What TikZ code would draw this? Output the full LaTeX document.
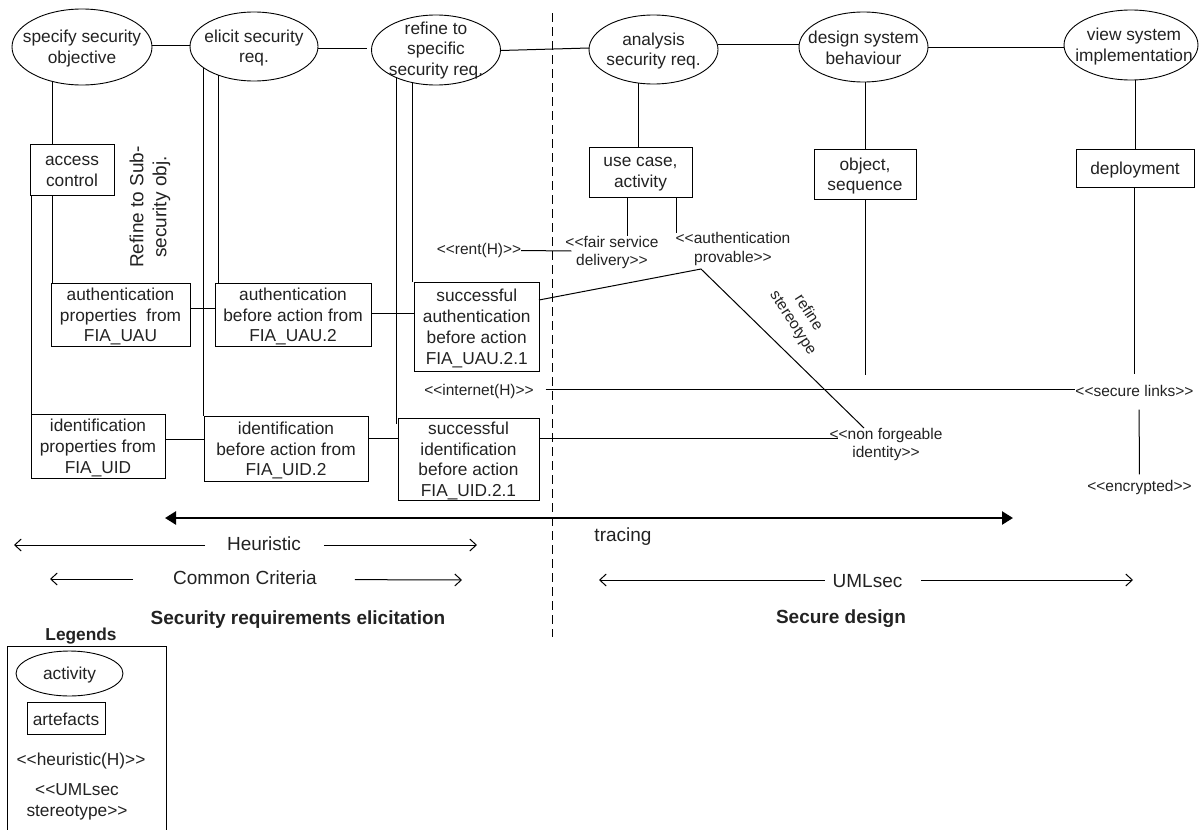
\documentclass[tikz,border=0pt]{standalone}
\usepackage{fontspec}
\setmainfont{Liberation Sans}
\usetikzlibrary{shapes.geometric,arrows.meta}
\definecolor{ink}{HTML}{222222}
\newcommand{\fmain}{\fontsize{17.3}{20.8}\selectfont}
\newcommand{\fsmall}{\fontsize{15.5}{18.5}\selectfont}
\newcommand{\fbig}{\fontsize{19}{22}\selectfont}
\newcommand{\LL}{{<}{<}}
\newcommand{\RR}{{>}{>}}
\tikzset{
  link/.style={draw=black,line width=1pt},
  acttext/.style={font=\fmain,text=ink,align=center,inner sep=0pt,yshift=-1.5pt},
  arttext/.style={font=\fmain,text=ink,align=center,inner sep=0pt,yshift=-2pt},
  act/.style={draw=black,line width=.9pt,ellipse,inner sep=0pt,outer sep=0pt},
  art/.style={draw=black,line width=1pt,rectangle,inner sep=0pt,outer sep=0pt},
  stereo/.style={font=\fsmall,text=ink,align=center,inner sep=0pt,outer sep=0pt},
  bigtext/.style={font=\fbig,text=ink,align=center,inner sep=0pt,outer sep=0pt},
  headtext/.style={font=\fbig\bfseries,text=ink,align=center,inner sep=0pt,outer sep=0pt},
  halfl/.style={draw=black,line width=1pt,-{Straight Barb[length=6.5pt,width=12pt]}},
}
\begin{document}
\begin{tikzpicture}[x=1pt,y=-1pt]
\useasboundingbox (0,0) rectangle (1200,830);
% activities
\node[act,minimum width=140pt,minimum height=76pt,label={[acttext]center:specify security\\objective}] (e1) at (82,47) {};
\node[act,minimum width=128pt,minimum height=69pt,label={[acttext]center:elicit security\\req.}] (e2) at (254,46.5) {};
\node[act,minimum width=129pt,minimum height=70pt,label={[acttext,yshift=1pt]center:refine to\\specific\\security req.}] (e3) at (436,50) {};
\node[act,minimum width=129pt,minimum height=69pt,label={[acttext]center:analysis\\security req.}] (e4) at (653.5,49.5) {};
\node[act,minimum width=129pt,minimum height=70pt,label={[acttext,yshift=1pt]center:design system\\behaviour}] (e5) at (863.5,47) {};
\node[act,minimum width=134pt,minimum height=70pt,label={[acttext,xshift=3pt]center:view system\\implementation}] (e6) at (1131,45) {};
% artefacts
\node[art,minimum width=84pt,minimum height=51pt,label={[arttext]center:access\\control}] (ac) at (72,169.5) {};
\node[art,minimum width=139pt,minimum height=63pt,label={[arttext]center:authentication\\properties~ from\\FIA\_UAU}] (ap) at (120.5,314.5) {};
\node[art,minimum width=156pt,minimum height=63pt,label={[arttext]center:authentication\\before action from\\FIA\_UAU.2}] (ab) at (293,314.5) {};
\node[art,minimum width=124.5pt,minimum height=89pt,label={[arttext]center:successful\\authentication\\before action\\FIA\_UAU.2.1}] (sa) at (476.75,326.5) {};
\node[art,minimum width=134pt,minimum height=64pt,label={[arttext]center:identification\\properties from\\FIA\_UID}] (ip) at (98,446) {};
\node[art,minimum width=164pt,minimum height=65pt,label={[arttext]center:identification\\before action from\\FIA\_UID.2}] (ib) at (286,448.5) {};
\node[art,minimum width=141pt,minimum height=82pt,label={[arttext]center:successful\\identification\\before action\\FIA\_UID.2.1}] (si) at (468.5,459) {};
\node[art,minimum width=103pt,minimum height=50pt,label={[arttext]center:use case,\\activity}] (uc) at (640.5,172) {};
\node[art,minimum width=102pt,minimum height=50pt,label={[arttext]center:object,\\sequence}] (ob) at (865,174) {};
\node[art,minimum width=118pt,minimum height=38pt,label={[arttext]center:deployment}] (de) at (1135,168) {};
% stereotypes
\node[stereo] (rent) at (479,250) {\LL rent(H)\RR};
\node[stereo] (fair) at (612,252.5) {\LL fair service\\delivery\RR};
\node[stereo] (prov) at (733,249) {\LL authentication\\provable\RR};
\node[stereo] (inet) at (479,391) {\LL internet(H)\RR};
\node[stereo] (slink) at (1134.5,391) {\LL secure links\RR};
\node[stereo] (nf) at (886,444.5) {\LL non forgeable\\identity\RR};
\node[stereo] (enc) at (1139.5,487.5) {\LL encrypted\RR};
\node[stereo,rotate=-57] (rs) at (800.5,318) {refine\\stereotype};
\node[font=\fontsize{19}{23}\selectfont,text=ink,align=center,inner sep=0pt,rotate=90] (rsub) at (150,207) {Refine to Sub-\\security obj.};
% free ends
\coordinate (bend) at (701,269);
\coordinate (obend) at (865,375);
\coordinate (deend) at (1134,374);
\coordinate (dashtop) at (552,13);
\coordinate (dashbot) at (552,637);
\coordinate (tl) at (165,518);
\coordinate (tr) at (1013,518);
\coordinate (hl) at (14,545);
\coordinate (hr) at (477,545);
\coordinate (cl) at (50,579);
\coordinate (cr) at (462,580);
\coordinate (ul) at (599,580);
\coordinate (ur) at (1133,580);
% activity chain
\draw[link] ([yshift=2pt]e1.east) -- ([yshift=1.5pt]e2.west);
\draw[link,shorten >=5pt] ([yshift=-1.5pt]e2.east) -- ([yshift=2pt]e3.west);
\draw[link] ([yshift=-.5pt]e3.east) -- ([yshift=1.5pt]e4.west);
\draw[link] ([yshift=5.5pt]e4.east) -- ([yshift=3pt]e5.west);
\draw[link] ([yshift=-.5pt]e5.east) -- ([yshift=-2.5pt]e6.west);
% verticals
\draw[link] (e1.230) -- (e1.230 |- ac.north);
\draw[link] ([xshift=-20pt]ac.south) -- ([xshift=-20pt]ac.south |- ap.north);
\draw[link] ([xshift=-41pt]ac.south) -- ([xshift=-41pt]ac.south |- ip.north);
\draw[link] (e2.219.5) -- (e2.219.5 |- ab.north);
\draw[link] (e2.203.3) -- (e2.203.3 |- ib.north);
\draw[link] (e3.234.9) -- (e3.234.9 |- sa.north);
\draw[link] (e3.215.6) -- ([yshift=-6pt]e3.215.6 |- si.north);
\draw[link] (e4.246.7) -- (e4.246.7 |- uc.north);
\draw[link] (ob.north |- e5.south) -- (ob.north);
\draw[link] (de.north |- e6.south) -- (de.north);
\draw[link] (ob.south) -- (obend);
\draw[link] ([xshift=-1pt]de.south) -- (deend);
\draw[link] ([xshift=-13.5pt]uc.south) -- ([xshift=-13.5pt]uc.south |- fair.north);
\draw[link] ([xshift=35.5pt]uc.south) -- ([xshift=35.5pt]uc.south |- prov.north);
\draw[link,shorten <=13pt,shorten >=6pt] ([xshift=4.5pt]slink.south) -- (enc.north);
% horizontals
\draw[link] ([yshift=6.5pt]ap.east) -- ([yshift=6.5pt]ab.west);
\draw[link] ([yshift=1.5pt]ab.east) -- ([yshift=13.5pt]sa.west);
\draw[link] ([yshift=7pt]ip.east) -- ([yshift=9.5pt]ib.west);
\draw[link] ([yshift=10.5pt]ib.east) -- ([yshift=21pt]si.west);
\draw[link] ([yshift=21pt]si.east) -- ([xshift=8pt,yshift=6.5pt]nf.west);
\draw[link] ([yshift=-.5pt]rent.east) -- ([xshift=6pt,yshift=1.5pt]fair.west);
\draw[link,shorten <=12pt] ([yshift=2pt]inet.east) -- ([yshift=2pt]slink.west);
\draw[link] ([yshift=26.5pt]sa.east) -- (bend) -- ([xshift=-22pt]nf.north);
% dashed divider
\draw[line width=1pt,dash pattern=on 9pt off 5pt] (dashtop) -- (dashbot);
% spans
\draw[draw=black,line width=2.4pt,{Triangle[length=11pt,width=13pt]}-{Triangle[length=11pt,width=13pt]}] (tl) -- (tr);
\node[bigtext] (trace) at (623,537) {tracing};
\node[bigtext] (heur) at (264,544) {Heuristic};
\draw[halfl,shorten <=22pt] ([yshift=-1pt]heur.west) -- (hl);
\draw[halfl,shorten <=23pt] ([yshift=-1pt]heur.east) -- (hr);
\node[bigtext] (cc) at (245,578) {Common Criteria};
\draw[halfl,shorten <=40pt] ([yshift=-1pt]cc.west) -- (cl);
\draw[halfl,shorten <=38pt] ([yshift=-1.5pt]cc.east) -- (cr);
\node[bigtext] (um) at (867.5,581) {UMLsec};
\draw[halfl,shorten <=8pt] ([yshift=1pt]um.west) -- (ul);
\draw[halfl,shorten <=19pt] ([yshift=1pt]um.east) -- (ur);
\node[headtext] (sre) at (298,620) {Security requirements elicitation};
\node[headtext] (sd) at (841,619) {Secure design};
% legend
\node[font=\fmain\bfseries,text=ink,inner sep=0pt] (leg) at (81,636) {Legends};
\draw[line width=1pt] (7,830) -- (7,646) -- (166,646) -- (166,830);
\node[act,minimum width=107pt,minimum height=45pt,label={[acttext]center:activity}] (lact) at (69.5,673.5) {};
\node[art,minimum width=78pt,minimum height=32pt,label={[arttext,yshift=1pt]center:artefacts}] (lart) at (66,718) {};
\node[acttext] (lh) at (81,759.5) {\LL heuristic(H)\RR};
\node[acttext] (lu) at (77,800) {\LL UMLsec\\stereotype\RR};
\end{tikzpicture}
\end{document}
